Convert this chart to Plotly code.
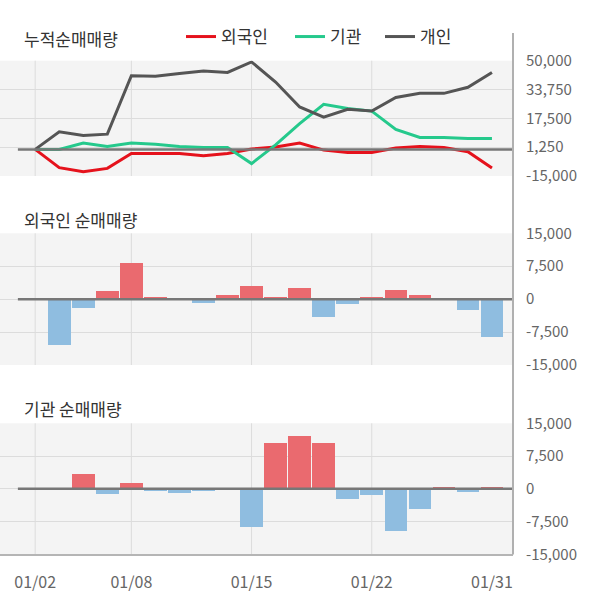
import plotly.graph_objects as go

dates = ["01/02", "01/03", "01/06", "01/07", "01/08", "01/09", "01/10", "01/13", "01/14", "01/15",
         "01/16", "01/17", "01/20", "01/21", "01/22", "01/23", "01/28", "01/29", "01/30", "01/31"]

cum_foreign = [0, -10300, -12600, -10700, -2300, -2300, -2300, -3600, -2300, 200,
               1300, 3600, -400, -1700, -1700, 800, 1700, 1100, -1300, -10500]
cum_inst = [0, 0, 3600, 1700, 3600, 2900, 1700, 1000, 1000, -8000,
            2500, 14500, 25400, 23100, 21600, 11300, 6700, 6700, 6100, 6100]
cum_indiv = [0, 9900, 7800, 8600, 41500, 41300, 42800, 44200, 43400, 49300,
             38000, 23900, 18200, 22600, 21600, 29300, 31600, 31600, 35000, 43400]

net_foreign = [0, -10400, -2000, 1700, 8100, 500, 0, -1000, 800, 3000,
               300, 2400, -4200, -1200, 300, 2100, 800, 0, -2600, -8700]
net_inst = [0, 0, 3300, -1200, 1200, -500, -1000, -500, 0, -8800,
            10400, 12000, 10400, -2400, -1500, -9700, -4700, 300, -800, 300]

cum_ticks = [-15000, 1250, 17500, 33750, 50000]
net_ticks = [-15000, -7500, 0, 7500, 15000]
x_label_idx = [0, 4, 9, 14, 19]
x_grid_idx = [0, 4, 9, 14]

RED_LINE = "#e5121c"
GREEN_LINE = "#25c98c"
DARK_LINE = "#555555"
POS_BAR = "#ea6a6f"
NEG_BAR = "#8fbde0"
FONT = "Noto Sans CJK KR"
W, H = 600, 604
AXIS_PX = 513

def dom(top_px, bot_px):
    return [1 - bot_px / H, 1 - top_px / H]

xs = list(range(len(dates)))
x_range = [(0 - 35.2) / 24.04, (AXIS_PX - 35.2) / 24.04]

fig = go.Figure()
fig.add_trace(go.Scatter(x=xs, y=cum_foreign, mode="lines", name="외국인", legend="legend",
                         line=dict(color=RED_LINE, width=3), xaxis="x", yaxis="y"))
fig.add_trace(go.Scatter(x=xs, y=cum_inst, mode="lines", name="기관", legend="legend2",
                         line=dict(color=GREEN_LINE, width=3), xaxis="x", yaxis="y"))
fig.add_trace(go.Scatter(x=xs, y=cum_indiv, mode="lines", name="개인", legend="legend3",
                         line=dict(color=DARK_LINE, width=3), xaxis="x", yaxis="y"))
fig.add_trace(go.Bar(x=xs, y=net_foreign, width=0.94, showlegend=False,
                     marker=dict(color=[POS_BAR if v >= 0 else NEG_BAR for v in net_foreign], line=dict(width=0)),
                     xaxis="x2", yaxis="y2"))
fig.add_trace(go.Bar(x=xs, y=net_inst, width=0.94, showlegend=False,
                     marker=dict(color=[POS_BAR if v >= 0 else NEG_BAR for v in net_inst], line=dict(width=0)),
                     xaxis="x3", yaxis="y3"))

panels = [("", dom(60.7, 176), cum_ticks, [-15000, 50000]),
          ("2", dom(233.3, 365), net_ticks, [-15000, 15000]),
          ("3", dom(423.3, 554.3), net_ticks, [-15000, 15000])]

xdom = [0, AXIS_PX / W]
layout_axes = {}
shapes = []
for i, (s, d, ticks, rng) in enumerate(panels):
    last = (s == "3")
    layout_axes["xaxis" + s] = dict(
        domain=xdom, range=x_range, anchor="y" + s, showgrid=False, zeroline=False,
        tickmode="array", tickvals=x_label_idx if last else [],
        ticktext=[dates[j] for j in x_label_idx] if last else [],
        showticklabels=last, ticks="", ticklabelstandoff=12, automargin=False,
        tickfont=dict(family=FONT, size=16, color="#666666"),
        showline=last, linecolor="#b5b5b5", linewidth=2,
    )
    layout_axes["yaxis" + s] = dict(
        domain=d, range=rng, anchor="x" + s, side="right",
        tickmode="array", tickvals=ticks, ticktext=[f"{v:,}" for v in ticks],
        showgrid=True, gridcolor="#dcdcdc", gridwidth=1, zeroline=False,
        ticks="", ticklabelstandoff=12, automargin=False,
        tickfont=dict(family=FONT, size=15, color="#666666"), showline=False,
    )
    xr = "x" + s
    yr = "y" + s
    for gi in x_grid_idx:
        shapes.append(dict(type="line", xref=xr, yref=yr + " domain", x0=gi, x1=gi, y0=0, y1=1,
                           line=dict(color="#dcdcdc", width=1), layer="below"))
    shapes.append(dict(type="line", xref=xr, yref=yr, x0=-0.72, x1=x_range[1], y0=0, y1=0,
                       line=dict(color="#777777", width=2.5), layer="above"))

# right vertical axis line spanning all panels
shapes.append(dict(type="line", xref="paper", yref="paper", x0=AXIS_PX / W, x1=AXIS_PX / W,
                   y0=1 - 554.5 / H, y1=1 - 33 / H, line=dict(color="#b0b0b0", width=2)))

titles = [("누적순매매량", 39), ("외국인 순매매량", 219), ("기관 순매매량", 408)]
annotations = [dict(text=t, xref="paper", yref="paper", x=22 / W, y=1 - yc / H,
                    xanchor="left", yanchor="middle", showarrow=False,
                    font=dict(family=FONT, size=17, color="#333333")) for t, yc in titles]

legend_x_px = [181, 290, 380]
legend_common = dict(orientation="h", xanchor="left", yanchor="middle", y=1 - 37 / H,
                     bgcolor="rgba(0,0,0,0)", borderwidth=0,
                     font=dict(family=FONT, size=17, color="#333333"))
legends = {}
for k, px in zip(["legend", "legend2", "legend3"], legend_x_px):
    legends[k] = dict(x=px / W, **legend_common)

fig.update_layout(
    width=W, height=H, margin=dict(l=0, r=0, t=0, b=0, autoexpand=False),
    paper_bgcolor="white", plot_bgcolor="#f4f4f4",
    font=dict(family=FONT),
    showlegend=True,
    shapes=shapes, annotations=annotations, bargap=0,
    **legends,
    **layout_axes,
)

fig.write_html("out.html", config={"displayModeBar": False},
               post_script="document.body.style.margin='0';document.body.style.padding='0';")
